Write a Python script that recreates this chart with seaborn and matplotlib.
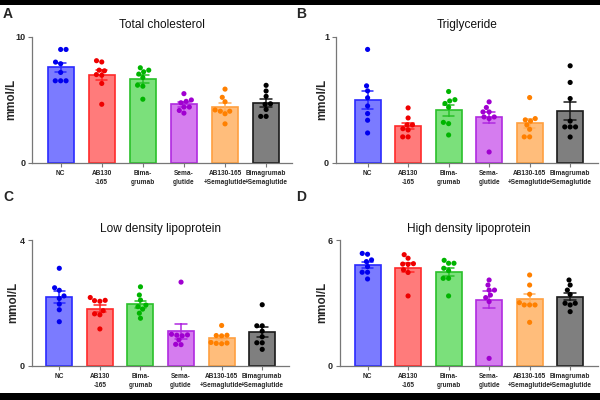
import matplotlib
matplotlib.use('Agg')
import matplotlib.pyplot as plt
import numpy as np
import pandas as pd
import seaborn as sns
from matplotlib.patches import Rectangle

#%% data
groups = ['NC', 'AB130\n-165', 'Bima-\ngrumab', 'Sema-\nglutide',
          'AB130-165\n+Semaglutide', 'Bimagrumab\n+Semaglutide']

tc_nc = [8.99, 8.99, 7.99, 7.86, 7.17, 6.51, 6.51, 6.51]
tc_ab = [8.1, 8.0, 7.35, 7.3, 7.0, 6.95, 6.3, 4.65]
tc_bima = [7.54, 7.35, 7.22, 7.04, 6.77, 6.16, 6.08, 5.05]
tc_sema = [5.49, 4.99, 4.88, 4.77, 4.43, 4.43, 4.16, 3.95]
tc_absema = [5.85, 5.2, 4.85, 4.2, 4.1, 4.1, 3.9, 3.1]
tc_bimasema = [6.15, 5.7, 5.28, 4.69, 4.64, 4.24, 3.69, 3.69]

tg_nc = [0.899, 0.61, 0.57, 0.515, 0.45, 0.39, 0.337, 0.236]
tg_ab = [0.435, 0.355, 0.30, 0.30, 0.27, 0.26, 0.205, 0.205]
tg_bima = [0.565, 0.50, 0.49, 0.47, 0.44, 0.32, 0.31, 0.22]
tg_sema = [0.483, 0.438, 0.403, 0.403, 0.363, 0.363, 0.35, 0.085]
tg_absema = [0.517, 0.35, 0.34, 0.33, 0.30, 0.265, 0.205, 0.205]
tg_bimasema = [0.769, 0.637, 0.509, 0.33, 0.284, 0.284, 0.284, 0.204]

ldl_nc = [3.10, 2.48, 2.40, 2.22, 2.14, 1.96, 1.78, 1.40]
ldl_ab = [2.17, 2.08, 2.07, 2.05, 1.75, 1.65, 1.62, 1.17]
ldl_bima = [2.51, 2.25, 2.09, 1.93, 1.88, 1.80, 1.67, 1.51]
ldl_sema = [2.66, 1.0, 0.98, 0.97, 0.95, 0.82, 0.68, 0.67]
ldl_absema = [1.28, 0.97, 0.96, 0.95, 0.74, 0.72, 0.71, 0.70]
ldl_bimasema = [1.94, 1.27, 1.27, 1.10, 0.92, 0.73, 0.73, 0.52]

hdl_nc = [5.36, 5.32, 5.05, 4.97, 4.73, 4.46, 4.46, 4.14]
hdl_ab = [5.3, 5.13, 4.87, 4.85, 4.84, 4.58, 4.45, 3.33]
hdl_bima = [5.03, 4.89, 4.89, 4.65, 4.54, 4.17, 4.17, 3.33]
hdl_sema = [4.09, 3.85, 3.61, 3.61, 3.37, 3.25, 3.06, 0.35]
hdl_absema = [4.33, 3.85, 3.41, 3.01, 2.90, 2.90, 2.90, 2.07]
hdl_bimasema = [4.09, 3.85, 3.61, 3.40, 2.98, 2.98, 2.90, 2.58]

titles = ['Total cholesterol', 'Triglyceride',
          'Low density lipoprotein', 'High density lipoprotein']
letters = ['A', 'B', 'C', 'D']
ymax = [10, 1, 4, 6]

panels = [
    [tc_nc, tc_ab, tc_bima, tc_sema, tc_absema, tc_bimasema],
    [tg_nc, tg_ab, tg_bima, tg_sema, tg_absema, tg_bimasema],
    [ldl_nc, ldl_ab, ldl_bima, ldl_sema, ldl_absema, ldl_bimasema],
    [hdl_nc, hdl_ab, hdl_bima, hdl_sema, hdl_absema, hdl_bimasema],
]

fill_cols = ['#7b7bff', '#ff7b7b', '#7be07b', '#d57cef', '#ffbd7b', '#7f7f7f']
dot_cols = ['#0000ee', '#ee0000', '#00b400', '#a000d0', '#ff8000', '#000000']
edge_cols = ['#2a2aff', '#ff2a2a', '#2ac02a', '#b02ae0', '#ffa040', '#1a1a1a']

#%% figure
sns.set_theme(style='ticks')
plt.rcParams['font.family'] = ['Liberation Sans', 'DejaVu Sans']

fig = plt.figure(figsize=(6, 4), dpi=100)
fig.patch.set_facecolor('white')

# pixel boxes (left, right, bottom-from-top, top-from-top) and xlims
boxes = [(32.3, 292, 163, 36.7), (336, 597.7, 162.7, 36.7),
         (31.7, 289, 365.7, 240), (340, 597.7, 365.7, 240)]
xlims = [(-0.69, 5.63), (-0.78, 5.68), (-0.68, 5.66), (-0.68, 5.68)]
letter_pos = [(3, 14), (296, 14), (3, 197), (296, 197)]
ylab_x = [11, 322, 13, 322]

for i in range(4):
    l, r, b, t = boxes[i]
    ax = fig.add_axes([l / 600, (400 - b) / 400, (r - l) / 600, (b - t) / 400])
    rows = []
    for g, vals in zip(groups, panels[i]):
        for v in vals:
            rows.append((g, v))
    df = pd.DataFrame(rows, columns=['group', 'value'])

    sns.barplot(data=df, x='group', y='value', hue='group', order=groups,
                hue_order=groups, palette=fill_cols, saturation=1,
                errorbar='se', capsize=0.28, width=0.64, linewidth=1.2,
                legend=False, err_kws={'linewidth': 1.1}, ax=ax)
    for j, p in enumerate(ax.patches[:6]):
        p.set_edgecolor(edge_cols[j])
    for j, ln in enumerate(ax.lines[:6]):
        ln.set_color(edge_cols[j] if j != 4 else '#ffb060')
        ln.set_zorder(3)

    sns.swarmplot(data=df, x='group', y='value', hue='group', order=groups,
                  hue_order=groups, palette=dot_cols, size=3.7, legend=False,
                  ax=ax, zorder=4)

    ax.set_xlim(*xlims[i])
    ax.set_ylim(0, ymax[i])
    ax.set_yticks([0, ymax[i]])
    ax.set_yticklabels(['0', str(ymax[i])], fontsize=6.5, fontweight='bold')
    ax.set_xticks(range(6))
    ax.set_xticklabels(groups, fontsize=4.7, fontweight='bold', linespacing=1.5)
    ax.set_xlabel('')
    ax.set_ylabel('')
    ax.tick_params(axis='both', length=3, width=0.8, color='#777777', pad=2)
    for s in ['top', 'right']:
        ax.spines[s].set_visible(False)
    for s in ['left', 'bottom']:
        ax.spines[s].set_color('#777777')
        ax.spines[s].set_linewidth(0.9)
    ax.set_title(titles[i], fontsize=8.6, pad=6, color='#111111')

    fig.text(ylab_x[i] / 600, (400 - (b + t) / 2) / 400, 'mmol/L',
             rotation=90, ha='center', va='center', fontsize=8.3,
             fontweight='bold')
    fig.text(letter_pos[i][0] / 600, (400 - letter_pos[i][1]) / 400,
             letters[i], fontsize=10, fontweight='bold', ha='left',
             va='center')

# black bands at the top and bottom edges
fig.patches.append(Rectangle((0, 395 / 400), 1, 5 / 400, transform=fig.transFigure,
                             facecolor='black', edgecolor='none', zorder=10))
fig.patches.append(Rectangle((0, 0), 1, 7 / 400, transform=fig.transFigure,
                             facecolor='black', edgecolor='none', zorder=10))

fig.savefig('out.png', dpi=100)
